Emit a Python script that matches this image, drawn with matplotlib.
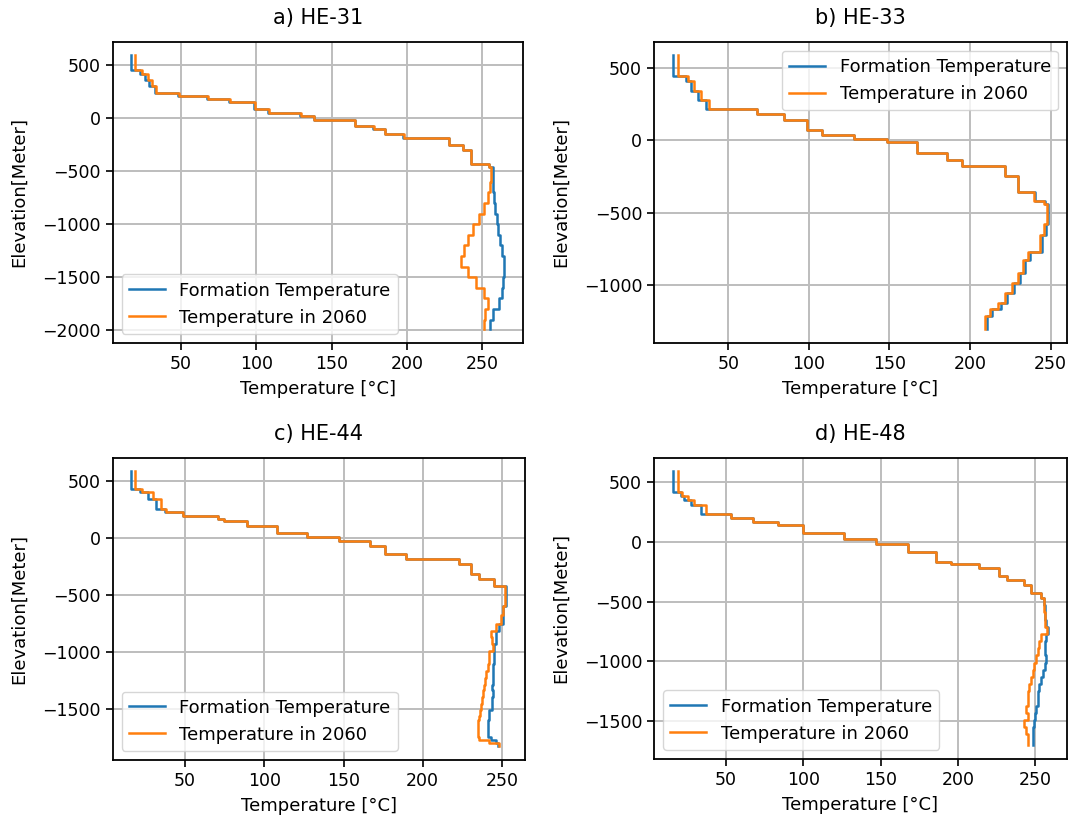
import numpy as np
import matplotlib.pyplot as plt
from matplotlib.ticker import MultipleLocator

# layer boundaries [m] and layer temperatures [°C], top to bottom

# HE-31
z_he31 = [590, 455, 413, 360, 303, 232, 210, 178, 147, 85, 47, 22, -15, -71, -108,
          -149, -190, -258, -305, -430, -460, -520, -600, -700, -800, -900, -1000,
          -1100, -1200, -1300, -1400, -1500, -1600, -1700, -1800, -1900, -1990]
t_he31_form = [17, 22.5, 26, 29, 32.4, 47.8, 67.6, 82, 98.5, 108, 129.3, 138.1, 165.6,
               177.8, 185.5, 197.6, 228, 237.2, 242.7, 254.8, 257, 257, 257.2, 257.8,
               258.8, 260, 260.4, 261.9, 263.2, 264.8, 264.8, 264.1, 263.2, 261, 257,
               255.3]
t_he31_2060 = [19.6, 24, 28, 30.5, 33.5, 48.5, 68, 82.5, 99, 108.5, 129.5, 138.5, 165.8,
               178, 185.7, 197.8, 228, 237.2, 242.7, 254.8, 256, 255.8, 255.3, 253.7,
               251.5, 247.8, 243.8, 240.5, 238.3, 236.1, 240.5, 246, 251.5, 253.7,
               252.2, 251.5]

# HE-33
z_he33 = [589, 443, 413, 345, 277, 215, 185, 140, 71, 37, 10, -8, -88, -134, -179,
          -248, -357, -419, -442, -578, -658, -772, -829, -920, -989, -1057, -1126,
          -1171, -1217, -1308]
t_he33_form = [15.6, 24, 27, 31, 36, 68, 84.6, 99, 108, 128, 148.6, 167, 185.7, 195,
               221.8, 230, 240.3, 246.5, 248.5, 247, 244.5, 237, 234, 231, 227, 223,
               219, 213.5, 210.5]
t_he33_2060 = [18.7, 25, 29, 33, 38, 68, 84.6, 99, 108, 128, 148.6, 167, 185.7, 195,
               221.8, 229.5, 239.5, 245.8, 247.8, 246, 243.4, 236.2, 233.1, 230, 225.9,
               221.8, 217.6, 212.5, 209.4]

# HE-44
z_he44 = [582, 427, 398, 339, 252, 223, 193, 164, 150, 106, 39, 4, -26, -69, -142,
          -186, -230, -318, -361, -420, -595, -680, -756, -814, -870, -931, -990,
          -1050, -1106, -1170, -1230, -1290, -1340, -1400, -1460, -1515, -1560, -1602,
          -1650, -1700, -1748, -1778, -1800, -1830]
t_he44_form = [16.1, 21.3, 26.6, 31.8, 37, 48.5, 70.5, 74.7, 89.3, 108, 127, 146.9,
               166.7, 176.2, 189.7, 223.2, 230.5, 235.8, 245.2, 252.5, 250.4, 250.4,
               248.3, 246.2, 246.2, 245.2, 245.2, 245.2, 244.1, 244.1, 244.1, 243.7,
               244.1, 243.7, 243.7, 242, 242, 241, 241, 241, 243.1, 246.2, 247.5]
t_he44_2060 = [18.6, 23, 29.7, 35, 38, 48.5, 70.5, 74.7, 89.3, 108, 127, 146.9, 166.7,
               176.2, 189.7, 223.2, 230.5, 235.8, 245.2, 252, 250.4, 249.3, 246.2, 243.1,
               243.7, 244.1, 242, 241.6, 241, 240, 239.5, 238.9, 237.9, 237.4, 236.8,
               236.2, 235.8, 234.7, 234.7, 234.7, 235.8, 242, 248]

# HE-48
z_he48 = [591, 422, 389, 348, 306, 237, 201, 168, 140, 71, 21, -18, -82, -165, -184,
          -220, -284, -317, -359, -428, -470, -525, -590, -650, -710, -770, -830, -890,
          -950, -1010, -1070, -1130, -1190, -1250, -1310, -1370, -1430, -1490, -1550,
          -1610, -1660, -1702]
t_he48_form = [15.5, 21, 23, 27.4, 33.8, 53.2, 67.2, 83.4, 99.6, 126.5, 147, 167.5,
               185.8, 195.5, 213.8, 226.7, 232, 242.9, 247.2, 253.7, 255.8, 256.3, 256.3,
               256.9, 258.4, 256.9, 256.5, 256.5, 256.9, 256.3, 254.7, 253.7, 252.6,
               251.9, 251.5, 250.4, 249.8, 248.9, 248.7, 248.7, 248.3]
t_he48_2060 = [18.75, 21.5, 25.2, 29.5, 37, 53.2, 67.2, 83.4, 99.6, 126.5, 147, 167.5,
               185.8, 195.5, 213.8, 226.7, 232, 242.9, 247.2, 253.7, 255.8, 255.8, 256.3,
               256.3, 257.6, 253.7, 252.6, 251.9, 250.6, 249.3, 248.3, 247.2, 246.1,
               245.5, 245, 244, 245, 242.5, 244, 245, 245]

titles = ["a) HE-31", "b) HE-33", "c) HE-44", "d) HE-48"]
profiles = [(z_he31, t_he31_form, t_he31_2060),
            (z_he33, t_he33_form, t_he33_2060),
            (z_he44, t_he44_form, t_he44_2060),
            (z_he48, t_he48_form, t_he48_2060)]
legend_loc = ["lower left", "upper right", "lower left", "lower left"]

# axes boxes [left, bottom, width, height] in figure fractions
boxes = [[0.1053, 0.5797, 0.3835, 0.3692],
         [0.6112, 0.5797, 0.3860, 0.3692],
         [0.1053, 0.0686, 0.3850, 0.3705],
         [0.6112, 0.0699, 0.3860, 0.3692]]


def step_profile(z, t):
    # each layer is a vertical segment between its upper and lower boundary
    z = np.asarray(z, dtype=float)
    zz = np.column_stack([z[:-1], z[1:]]).ravel()
    tt = np.repeat(np.asarray(t, dtype=float), 2)
    return tt, zz


fig = plt.figure(figsize=(10.7, 8.16), dpi=100)

for title, (z, tf, t60), loc, box in zip(titles, profiles, legend_loc, boxes):
    ax = fig.add_axes(box)
    x1, y1 = step_profile(z, tf)
    x2, y2 = step_profile(z, t60)
    ax.plot(x1, y1, color="tab:blue", lw=1.8, label="Formation Temperature")
    ax.plot(x2, y2, color="tab:orange", lw=1.8, label="Temperature in 2060")
    ax.set_title(title, fontsize=15, pad=13)
    ax.set_xlabel("Temperature [°C]", fontsize=13, labelpad=5)
    ax.set_ylabel("Elevation[Meter]", fontsize=13, labelpad=10)
    ax.yaxis.set_major_locator(MultipleLocator(500))
    ax.tick_params(labelsize=12.5, width=1.2, length=5)
    ax.grid(True, color="#bdbdbd", lw=1.4)
    for s in ax.spines.values():
        s.set_linewidth(1.3)
    ax.legend(loc=loc, fontsize=13)

fig.savefig("out.png", dpi=100)
